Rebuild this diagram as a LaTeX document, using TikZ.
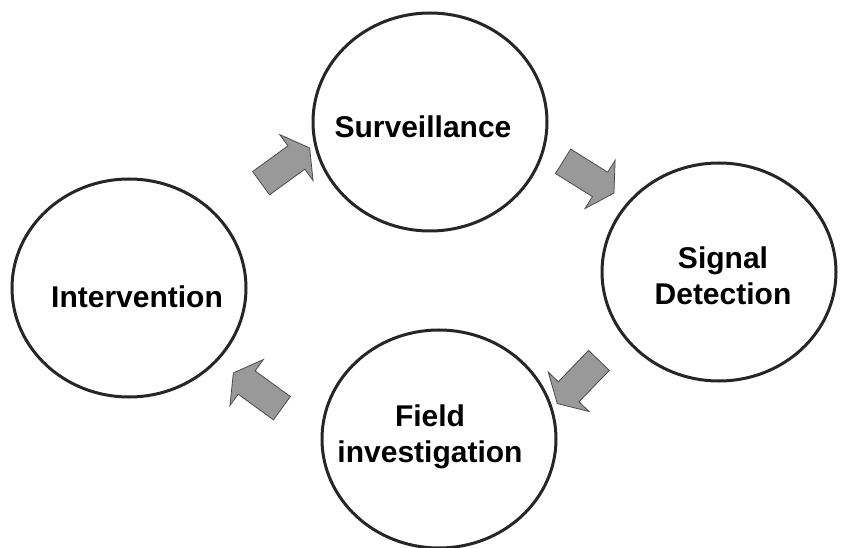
\documentclass[tikz,border=0pt]{standalone}
\usepackage{fontspec}
\setmainfont{Liberation Sans}
\usetikzlibrary{shapes.geometric,shapes.arrows}

\begin{document}
\begin{tikzpicture}[x=1pt,y=1pt,
	stage/.style={ellipse,draw=black!85,line width=3pt,minimum width=234pt,minimum height=218pt,inner sep=0pt},
	word/.style={font=\fontsize{30}{36}\selectfont\bfseries,align=center,inner sep=0pt},
	blockarrow/.style={single arrow,draw=black!70,fill=black!40,line width=0.8pt,minimum width=0pt,minimum height=60pt,inner xsep=0pt,inner ysep=14pt,single arrow head extend=14pt,single arrow tip angle=120}]
\useasboundingbox (0,0) rectangle (844,547);
\node[stage] (surv) at (430,425) {};
\node[stage] (signal) at (719,275) {};
\node[stage] (field) at (439,108) {};
\node[stage] (interv) at (129,259) {};

\node[word] (survtext) at (423,420) {Surveillance};
\node[word] (signaltext) at (723,271) {Signal\\Detection};
\node[word] (fieldtext) at (430,110) {Field\\investigation};
\node[word] (intervtext) at (137,250) {Intervention};

\node[blockarrow,rotate=36] (a1) at (282,379) {};
\node[blockarrow,rotate=-32] (a2) at (585,372) {};
\node[blockarrow,rotate=-134] (a3) at (581,168) {};
\node[blockarrow,rotate=144] (a4) at (261,154) {};

\end{tikzpicture}
\end{document}
